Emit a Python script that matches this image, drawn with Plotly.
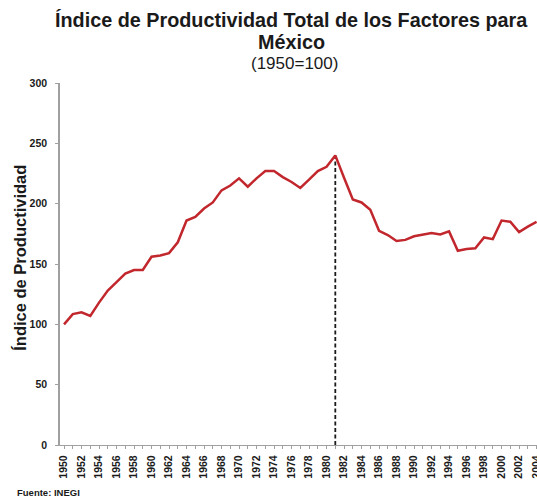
import plotly.graph_objects as go

anios = list(range(1950, 2005))
indice = [100, 108.5, 110, 107, 118, 128, 135, 142, 145, 145,
          156, 157, 159, 168, 186, 189, 196, 201, 211, 215,
          221, 214, 221, 227, 227, 222, 218, 213, 220, 227,
          230.5, 240, 221.5, 203.5, 201, 195, 177.5, 174, 169, 170,
          173, 174, 175.6, 174.5, 177, 161, 162.5, 163, 172, 170.6,
          186, 185, 176.5, 181, 185]

anio_pico = [1981, 1981]
valor_pico = [0, 240]

fuente = 'Liberation Sans, Arial, sans-serif'

fig = go.Figure()

fig.add_trace(go.Scatter(
    x = anio_pico,
    y = valor_pico,
    mode = 'lines',
    line = dict(color = '#1a1a1a', width = 1.8, dash = '4px,2.5px'),
    hoverinfo = 'skip'
))

fig.add_trace(go.Scatter(
    x = anios,
    y = indice,
    mode = 'lines',
    line = dict(color = '#C1272D', width = 2.5)
))

textos = [
    dict(text = '<b>Índice de Productividad Total de los Factores para</b>', x = 0.486, y = 1.174, size = 19.8),
    dict(text = '<b>México</b>', x = 0.486, y = 1.112, size = 19.8),
    dict(text = '(1950=100)', x = 0.492, y = 1.055, size = 17),
]

anotaciones = [dict(
    text = t['text'], xref = 'paper', yref = 'paper', x = t['x'], y = t['y'],
    xanchor = 'center', yanchor = 'middle', showarrow = False,
    font = dict(size = t['size'], family = fuente, color = '#1a1a1a')
) for t in textos]

anotaciones.append(dict(
    text = '<b>Índice de Productividad</b>', xref = 'paper', yref = 'paper',
    x = -0.084, y = 0.517, xanchor = 'center', yanchor = 'middle',
    textangle = -90, showarrow = False,
    font = dict(size = 16.5, family = fuente, color = '#1a1a1a')
))

anotaciones.append(dict(
    text = '<b>Fuente: INEGI</b>', xref = 'paper', yref = 'paper',
    x = -0.094, y = -0.13, xanchor = 'left', yanchor = 'middle',
    showarrow = False,
    font = dict(size = 9.5, family = fuente, color = '#1a1a1a')
))

fig.update_layout(
    width = 537,
    height = 496,
    showlegend = False,
    plot_bgcolor = 'white',
    paper_bgcolor = 'white',
    margin = dict(l = 60, r = 0, t = 83, b = 51),
    font = dict(family = fuente, color = '#1a1a1a'),
    annotations = anotaciones
)

fig.update_xaxes(
    range = [1949.54, 2004.05],
    tick0 = 1950,
    dtick = 2,
    tickangle = -90,
    tickfont = dict(size = 10.5, family = fuente),
    tickprefix = '<b>', ticksuffix = '</b>',
    ticklabelstandoff = 2,
    ticklabeloverflow = 'allow',
    showline = True,
    linecolor = '#a0a0a0',
    linewidth = 1.2,
    ticks = 'outside',
    ticklen = 3,
    tickcolor = '#a0a0a0',
    minor = dict(dtick = 1, ticks = 'outside', ticklen = 3, tickcolor = '#a0a0a0'),
    showgrid = False,
    zeroline = False,
    automargin = False
)

fig.update_yaxes(
    range = [0, 300],
    dtick = 50,
    tickfont = dict(size = 10.5, family = fuente),
    tickprefix = '<b>', ticksuffix = '</b>',
    ticklabelstandoff = 6,
    showline = True,
    linecolor = '#a0a0a0',
    linewidth = 1.5,
    ticks = 'outside',
    ticklen = 3,
    tickcolor = '#a0a0a0',
    showgrid = False,
    zeroline = False,
    automargin = False
)

# quitar el margen de la página para que la figura ocupe toda la ventana
fig.write_html(
    'out.html',
    config = {'displayModeBar': False},
    post_script = "document.body.style.margin='0';document.body.style.overflow='hidden';"
)
